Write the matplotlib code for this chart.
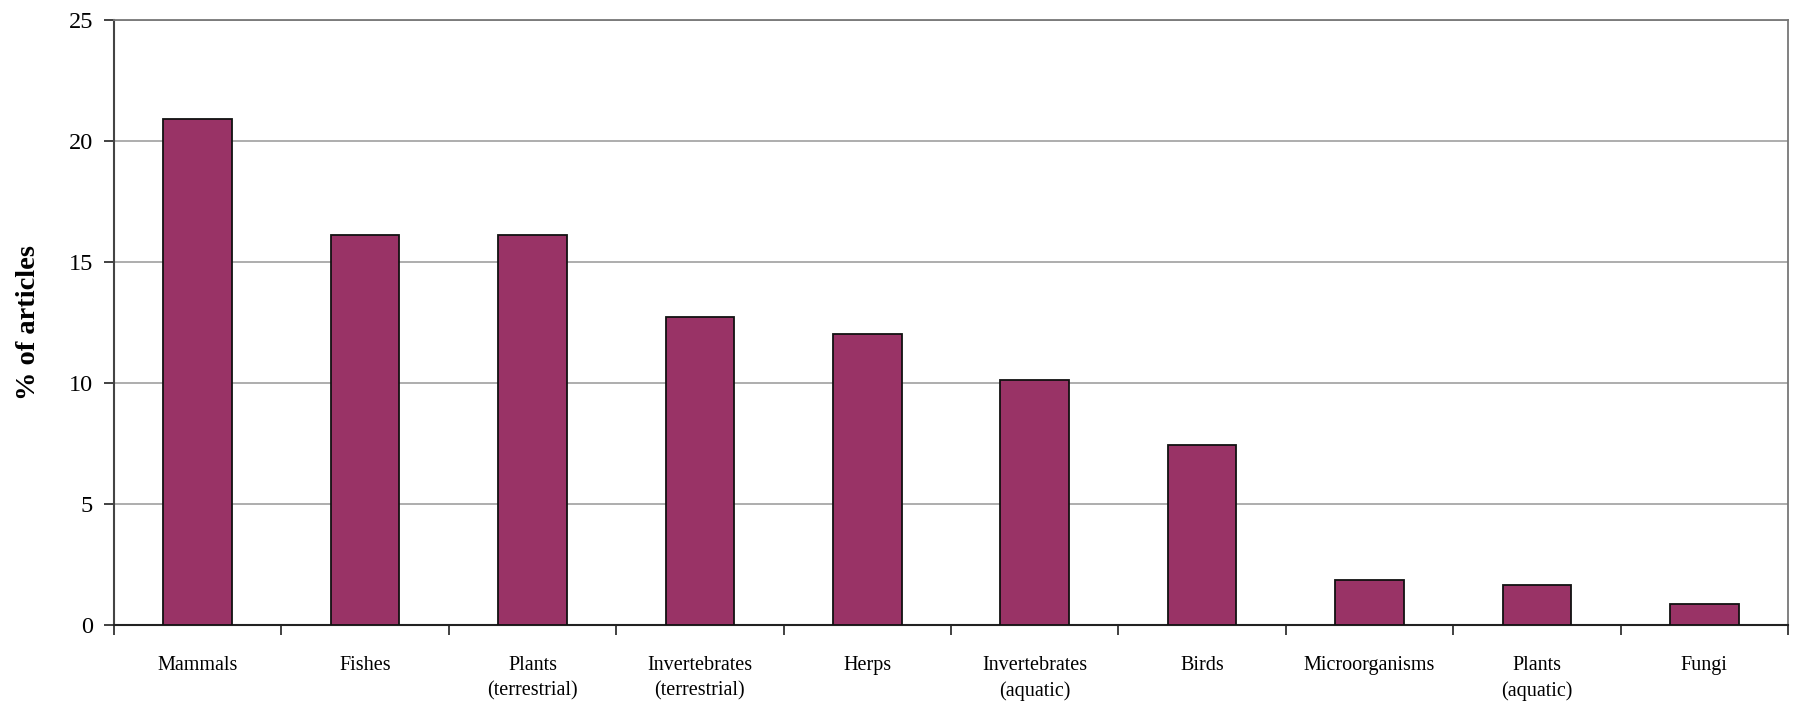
import matplotlib
matplotlib.use("Agg")
import matplotlib.pyplot as plt
import numpy as np

# Share of articles by taxonomic group
categories = ["Mammals", "Fishes", "Plants\n(terrestrial)", "Invertebrates\n(terrestrial)",
              "Herps", "Invertebrates\n(aquatic)", "Birds", "Microorganisms",
              "Plants\n(aquatic)", "Fungi"]
percent_articles = [20.9, 16.1, 16.1, 12.7, 12.0, 10.1, 7.45, 1.85, 1.65, 0.85]
y_ticks = [0, 5, 10, 15, 20, 25]

plt.rcParams['font.family'] = ['Liberation Serif', 'DejaVu Serif']

fig = plt.figure(figsize=(17.94, 7.04), dpi=100)
ax = fig.add_axes([0.0635, 0.1122, 0.9967 - 0.0635, 0.9723 - 0.1122])

x = np.arange(len(categories))
ax.bar(x, percent_articles, width=0.41, color="#993366", edgecolor="#111111",
       linewidth=1.3, zorder=3)

ax.set_xlim(-0.5, len(categories) - 0.5)
ax.set_ylim(0, 25)
ax.set_yticks(y_ticks)
ax.set_yticklabels([str(t) for t in y_ticks], fontsize=17.5)
ax.yaxis.grid(True, color="#a0a0a0", linewidth=1.2, zorder=0)

ax.set_xticks(x)
ax.set_xticklabels(categories, fontsize=14.5, linespacing=1.45)
ax.tick_params(axis='x', which='major', length=0, pad=22)
ax.set_xticks(np.arange(-0.5, len(categories)), minor=True)
ax.tick_params(axis='x', which='minor', length=7, width=1.3, color="#333333", direction='out')
ax.tick_params(axis='y', length=7, width=1.3, color="#333333", pad=8)

ax.set_ylabel("% of articles", fontsize=20.5, fontweight='bold', labelpad=20)

ax.spines['left'].set_color("#444444")
ax.spines['left'].set_linewidth(1.5)
ax.spines['bottom'].set_color("#222222")
ax.spines['bottom'].set_linewidth(1.5)
ax.spines['top'].set_color("#777777")
ax.spines['top'].set_linewidth(1.3)
ax.spines['right'].set_color("#777777")
ax.spines['right'].set_linewidth(1.3)

fig.savefig("out.png", dpi=100, facecolor="white")
